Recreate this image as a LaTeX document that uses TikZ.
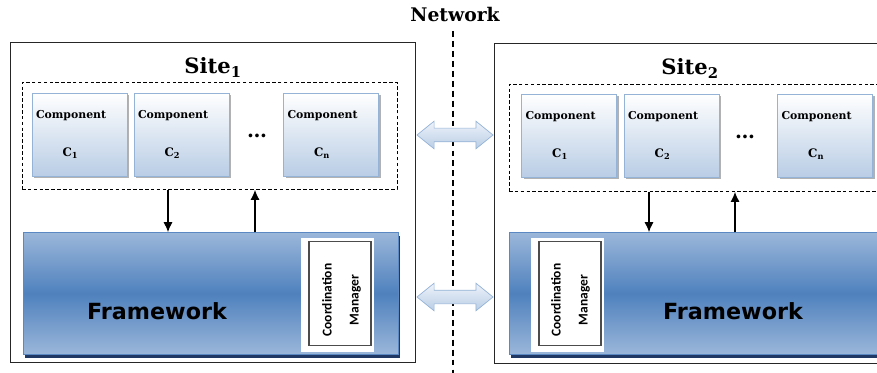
\documentclass[tikz,border=0pt]{standalone}
\usepackage{fontspec}
\setmainfont{DejaVu Serif}
\newfontfamily\fwfont{DejaVu Sans}
\newfontfamily\cmfont{Carlito}
\usetikzlibrary{arrows.meta, shapes.arrows, shadows}

\definecolor{compTop}{HTML}{FFFFFF}
\definecolor{compBot}{HTML}{B9CDE5}
\definecolor{compLine}{HTML}{95B3D7}
\definecolor{fwLight}{HTML}{9BB7DA}
\definecolor{fwDark}{HTML}{4F81BD}
\definecolor{fwLine}{HTML}{5B87C2}
\definecolor{fwShadow}{HTML}{1F3864}
\definecolor{linkTop}{HTML}{EEF3FA}
\definecolor{linkBot}{HTML}{B9CDE5}

\newcommand{\pxu}{0.03cm}

\begin{document}
\begin{tikzpicture}[
    x=0.03cm, y=-0.03cm,
    >={Latex[length=3mm, width=2.7mm]},
    site/.style={rectangle, draw=black!85, line width=0.8pt, inner sep=0,
                 minimum width=405*\pxu, minimum height=320*\pxu},
    grp/.style={rectangle, draw, dash pattern=on 3pt off 2pt, line width=0.7pt, inner sep=0,
                minimum width=375*\pxu, minimum height=107*\pxu},
    comp/.style={rectangle, draw=compLine, line width=0.6pt, top color=compTop, bottom color=compBot,
                 minimum width=95*\pxu, minimum height=83*\pxu, text width=87*\pxu, align=left,
                 inner sep=0, font=\fontsize{9.3}{11}\bfseries\selectfont,
                 general shadow={fill=black!30, shadow xshift=0.06cm, shadow yshift=-0.06cm}},
    fwork/.style={rectangle, draw=fwLine, line width=0.6pt, top color=fwLight, bottom color=fwLight,
                  middle color=fwDark, minimum width=375*\pxu, minimum height=122*\pxu, inner sep=0,
                  general shadow={fill=fwShadow, shadow xshift=0.06cm, shadow yshift=-0.09cm}},
    fwtext/.style={font=\fwfont\bfseries\fontsize{19}{22}\selectfont},
    cmback/.style={rectangle, fill=white, minimum width=73*\pxu, minimum height=114*\pxu, inner sep=0},
    cmbox/.style={rectangle, draw=black!70, line width=1.2pt, fill=white,
                  minimum width=62*\pxu, minimum height=104*\pxu, inner sep=0},
    cmtext/.style={rotate=90, align=center, inner sep=0,
                   font=\cmfont\bfseries\fontsize{11.5}{23}\selectfont},
    title/.style={font=\bfseries\fontsize{18}{20}\selectfont},
    dotsep/.style={font=\bfseries\fontsize{17}{18}\selectfont},
    link/.style={double arrow, draw=compLine, line width=0.6pt, top color=linkTop, bottom color=linkBot,
                 minimum height=76*\pxu, minimum width=27*\pxu, inner xsep=0, inner ysep=6.5*\pxu,
                 double arrow head extend=7*\pxu, double arrow tip angle=78},
    flow/.style={->, line width=0.9pt},
    net/.style={line width=1.2pt, dash pattern=on 5pt off 3.5pt}
]
    \useasboundingbox (0,0) rectangle (877,373);
    \clip (0,0) rectangle (877,373);

    % --- Network ---
    \node[font=\bfseries\fontsize{16}{18}\selectfont] (net) at (455,15) {Network};
    \coordinate (netTop) at (453,31);
    \coordinate (netBot) at (453,375);
    \draw[net] (netTop) -- (netBot);

    % --- Site 1 ---
    \node[site] (site1) at (212.5,202.5) {};
    \node[title] (title1) at (213,67) {Site\textsubscript{1}};
    \node[grp] (grp1) at (209.5,136) {};
    \node[comp] (comp11) at (79.5,134.5)  {Component\\[22pt]\hspace*{0.8cm}{\fontsize{10}{12}\selectfont C\textsubscript{1}}};
    \node[comp] (comp12) at (181.5,134.5) {Component\\[22pt]\hspace*{0.8cm}{\fontsize{10}{12}\selectfont C\textsubscript{2}}};
    \node[dotsep] (dots1) at (257,136) {\dots};
    \node[comp] (comp1n) at (331,134.5)   {Component\\[22pt]\hspace*{0.8cm}{\fontsize{10}{12}\selectfont C\textsubscript{n}}};

    \node[fwork] (fw1) at (210.5,293.5) {};
    \node[fwtext] (fwtxt1) at (157,311) {Framework};
    \node[cmback] (cmw1) at (337.5,295) {};
    \node[cmbox] (cm1) at (340,293.5) {};
    \node[cmtext] (cmtxt1) at (341.5,300) {Coordination\\Manager};

    \coordinate (dn1) at (168,0);
    \coordinate (up1) at (255,0);
    \draw[flow] (grp1.south -| dn1) -- (fw1.north -| dn1);
    \draw[flow] (fw1.north -| up1) -- (grp1.south -| up1);

    % --- Site 2 ---
    \node[site] (site2) at (696.5,203.5) {};
    \node[title] (title2) at (690,68) {Site\textsubscript{2}};
    \node[grp] (grp2) at (696.5,138) {};
    \node[comp] (comp21) at (569,135.5)   {Component\\[22pt]\hspace*{0.8cm}{\fontsize{10}{12}\selectfont C\textsubscript{1}}};
    \node[comp] (comp22) at (671.5,135.5) {Component\\[22pt]\hspace*{0.8cm}{\fontsize{10}{12}\selectfont C\textsubscript{2}}};
    \node[dotsep] (dots2) at (745,137) {\dots};
    \node[comp] (comp2n) at (825,135.5)   {Component\\[22pt]\hspace*{0.8cm}{\fontsize{10}{12}\selectfont C\textsubscript{n}}};

    \node[fwork] (fw2) at (696.5,293.5) {};
    \node[fwtext] (fwtxt2) at (733,311) {Framework};
    \node[cmback] (cmw2) at (567.5,295) {};
    \node[cmbox] (cm2) at (570,293.5) {};
    \node[cmtext] (cmtxt2) at (570.5,300) {Coordination\\Manager};

    \coordinate (dn2) at (649,0);
    \coordinate (up2) at (735,0);
    \draw[flow] (grp2.south -| dn2) -- (fw2.north -| dn2);
    \draw[flow] (fw2.north -| up2) -- (grp2.south -| up2);

    % --- Links between sites ---
    \node[link] (link1) at (455,135) {};
    \node[link] (link2) at (455,297) {};

\end{tikzpicture}
\end{document}
